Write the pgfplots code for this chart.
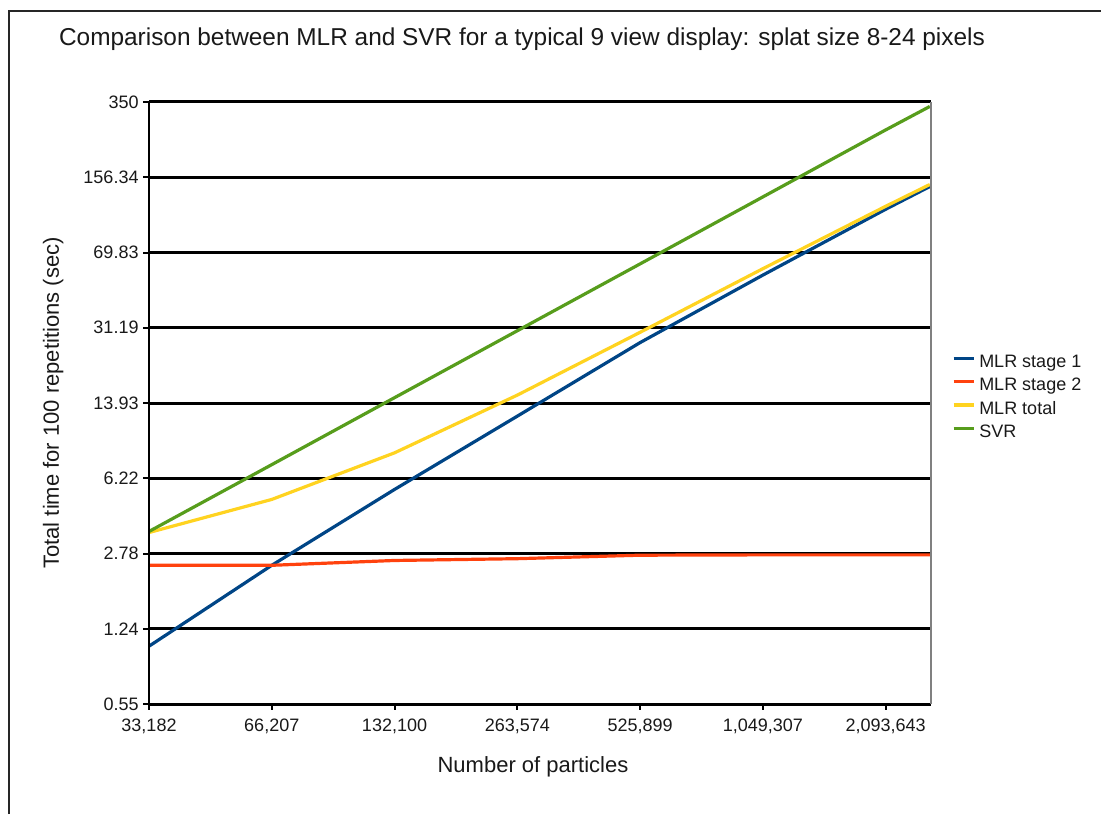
\documentclass[border=0pt]{standalone}
\usepackage{fontspec}
\setmainfont{Liberation Sans}
\usepackage{pgfplots}
\pgfplotsset{compat=1.18}
\definecolor{c1}{HTML}{004586}
\definecolor{c2}{HTML}{FF420E}
\definecolor{c3}{HTML}{FFD320}
\definecolor{c4}{HTML}{579D1C}
\begin{document}
\begin{tikzpicture}
\useasboundingbox (0pt,0pt) rectangle (550.5pt,407pt);
\draw[line width=0.65pt, black!85] (4.5pt,0pt) -- (4.5pt,401.5pt) -- (550.5pt,401.5pt);
\begin{axis}[
  at={(74.5pt,356pt)}, anchor=north west,
  scale only axis, width=391pt, height=301pt,
  xmin=0, xmax=6.37, ymode=log, ymin=0.5547, ymax=350,
  xtick={0,...,6},
  xticklabels={{33,182},{66,207},{132,100},{263,574},{525,899},{1,049,307},{2,093,643}},
  ytick={0.5547,1.24,2.78,6.22,13.93,31.19,69.83,156.34,350},
  yticklabels={0.55,1.24,2.78,6.22,13.93,31.19,69.83,156.34,350},
  yminorticks=false, xminorticks=false,
  ymajorgrids, grid style={black, line width=1.5pt},
  axis line style={draw=none},
  tick align=outside, major tick length=3pt, tick style={black, line width=1pt},
  xtick pos=bottom, ytick pos=left,
  ticklabel style={font=\fontsize{9}{10}\selectfont, text=black!90},
  yticklabel style={xshift=1.3pt},
  xticklabel style={yshift=-0.8pt},
  title={Comparison between MLR and SVR for a typical 9 view display: splat size 8-24 pixels},
  title style={at={(rel axis cs:0.477,1.074)}, anchor=base, font=\fontsize{12.2}{14}\selectfont, text=black!90},
  xlabel={Number of particles},
  xlabel style={at={(rel axis cs:0.491,-0.1146)}, anchor=base, font=\fontsize{11}{13}\selectfont, text=black!90},
  ylabel={Total time for 100 repetitions (sec)},
  ylabel style={at={(rel axis cs:-0.1151,0.5)}, anchor=base, font=\fontsize{11}{13}\selectfont, text=black!90},
  legend style={at={(rel axis cs:1.0269,0.581)}, anchor=north west, draw=none, fill=none,
    inner sep=0pt, outer sep=0pt, row sep=3.2pt, column sep=2pt,
    font=\fontsize{9}{10}\selectfont, text=black!90,
    nodes={inner sep=0pt, text height=6.5pt, text depth=2pt}},
  legend cell align=left,
  legend image code/.code={\draw[#1, line width=1.6pt] (0pt,2.3pt) -- (10pt,2.3pt);},
  every axis plot/.append style={line width=1.6pt, line join=round},
  after end axis/.code={
    \draw[black, line width=1.4pt] (rel axis cs:0,0) -- (rel axis cs:0,1);
    \draw[gray, line width=0.6pt] (rel axis cs:1,0) -- (rel axis cs:1,1);
  },
]
\addplot[c1] coordinates {(0,1.03) (1,2.45) (2,5.52) (3,12.1) (4,26.6) (5,54.8) (6,110.9) (6.36,141.5)};
\addlegendentry{MLR stage 1}
\addplot[c2] coordinates {(0,2.45) (1,2.45) (2,2.58) (3,2.63) (4,2.73) (5,2.74) (6,2.74) (6.36,2.74)};
\addlegendentry{MLR stage 2}
\addplot[c3] coordinates {(0,3.48) (1,4.96) (2,8.17) (3,15.16) (4,29.7) (5,58.7) (6,114.5) (6.36,144.6)};
\addlegendentry{MLR total}
\addplot[c4] coordinates {(0,3.52) (1,7.20) (2,14.75) (3,30.2) (4,61.8) (5,126.6) (6,259.4) (6.36,333.6)};
\addlegendentry{SVR}
\end{axis}
\end{tikzpicture}
\end{document}
